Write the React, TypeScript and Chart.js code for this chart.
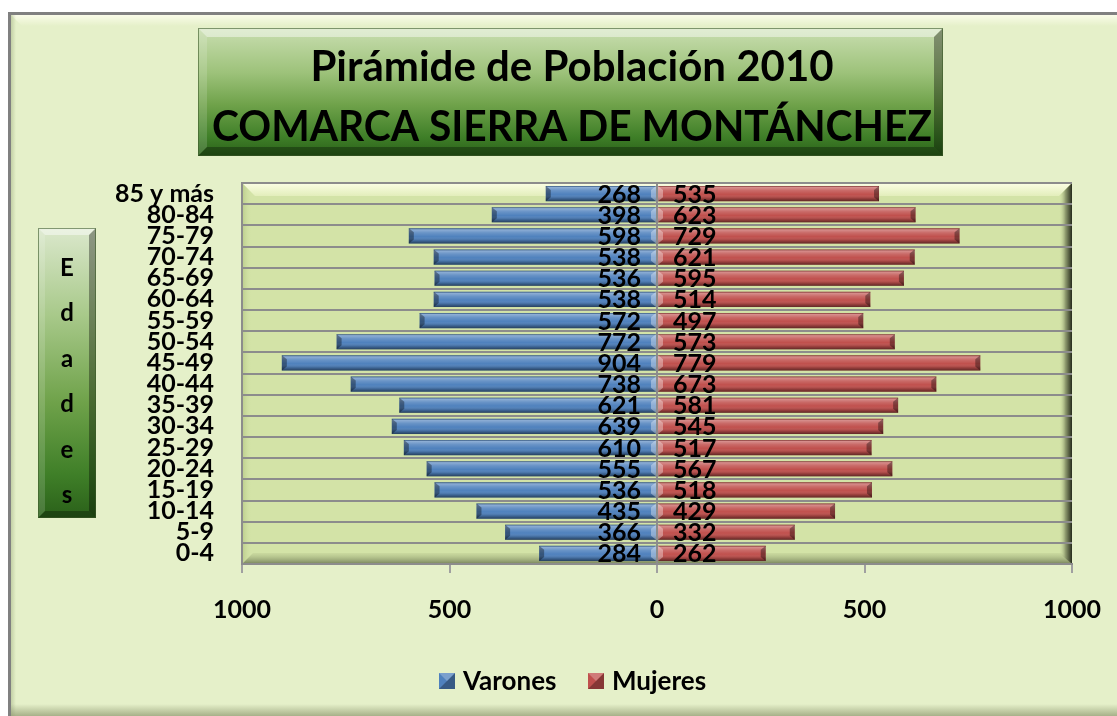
import React, { useEffect, useRef } from 'react';
import { Chart, registerables } from 'chart.js';

Chart.register(...registerables);

const CATEGORIES = ['0-4', '5-9', '10-14', '15-19', '20-24', '25-29', '30-34', '35-39', '40-44', '45-49', '50-54', '55-59', '60-64', '65-69', '70-74', '75-79', '80-84', '85 y más'];
const VARONES = [284, 366, 435, 536, 555, 610, 639, 621, 738, 904, 772, 572, 538, 536, 538, 598, 398, 268];
const MUJERES = [262, 332, 429, 518, 567, 517, 545, 581, 673, 779, 573, 497, 514, 595, 621, 729, 623, 535];
const X_TICKS = [-1000, -500, 0, 500, 1000];
const TITLE_LINES = ['Pirámide de Población 2010', 'COMARCA SIERRA DE MONTÁNCHEZ'];
const AXIS_TITLE = 'Edades';
const SERIES_NAMES = ['Varones', 'Mujeres'];
const SERIES_COLORS = ['#4f81bd', '#c0504d'];

const W = 1117;
const H = 716;
const FONT = 'Lato';

function bevelBox(ctx: CanvasRenderingContext2D, x: number, y: number, w: number, h: number, b: number, stops: [number, string][]) {
  const g = ctx.createLinearGradient(0, y, 0, y + h);
  stops.forEach(([o, c]) => g.addColorStop(o, c));
  ctx.fillStyle = g;
  ctx.fillRect(x, y, w, h);
  ctx.fillStyle = 'rgba(255,255,255,0.45)';
  ctx.beginPath();
  ctx.moveTo(x, y); ctx.lineTo(x + w, y); ctx.lineTo(x + w - b, y + b); ctx.lineTo(x + b, y + b); ctx.closePath(); ctx.fill();
  ctx.fillStyle = 'rgba(255,255,255,0.15)';
  ctx.beginPath();
  ctx.moveTo(x, y); ctx.lineTo(x + b, y + b); ctx.lineTo(x + b, y + h - b); ctx.lineTo(x, y + h); ctx.closePath(); ctx.fill();
  ctx.fillStyle = 'rgba(0,0,0,0.35)';
  ctx.beginPath();
  ctx.moveTo(x + w, y); ctx.lineTo(x + w, y + h); ctx.lineTo(x + w - b, y + h - b); ctx.lineTo(x + w - b, y + b); ctx.closePath(); ctx.fill();
  ctx.fillStyle = 'rgba(0,0,0,0.3)';
  ctx.beginPath();
  ctx.moveTo(x, y + h); ctx.lineTo(x + w, y + h); ctx.lineTo(x + w - b, y + h - b); ctx.lineTo(x + b, y + h - b); ctx.closePath(); ctx.fill();
  ctx.strokeStyle = 'rgba(60,90,40,0.6)';
  ctx.lineWidth = 1;
  ctx.strokeRect(x + 0.5, y + 0.5, w - 1, h - 1);
}

const decorPlugin = {
  id: 'decor',
  beforeDraw(chart: any) {
    const ctx: CanvasRenderingContext2D = chart.ctx;
    const ca = chart.chartArea;
    ctx.save();
    ctx.fillStyle = '#ffffff';
    ctx.fillRect(0, 0, W, H);
    ctx.fillStyle = '#e5f0c9';
    ctx.fillRect(8, 12, W, H);
    let g = ctx.createLinearGradient(0, 13, 0, 26);
    g.addColorStop(0, 'rgba(255,255,240,0.95)');
    g.addColorStop(1, 'rgba(255,255,240,0)');
    ctx.fillStyle = g;
    ctx.beginPath();
    ctx.moveTo(9, 13); ctx.lineTo(W, 13); ctx.lineTo(W, 26); ctx.lineTo(22, 26); ctx.closePath(); ctx.fill();
    g = ctx.createLinearGradient(9, 0, 16, 0);
    g.addColorStop(0, 'rgba(150,165,120,0.6)');
    g.addColorStop(1, 'rgba(150,165,120,0)');
    ctx.fillStyle = g;
    ctx.fillRect(9, 14, 8, H);
    g = ctx.createLinearGradient(0, 704, 0, H);
    g.addColorStop(0, 'rgba(140,150,110,0)');
    g.addColorStop(1, 'rgba(140,150,110,0.7)');
    ctx.fillStyle = g;
    ctx.fillRect(9, 704, W, 12);
    ctx.strokeStyle = '#808080';
    ctx.lineWidth = 3;
    ctx.beginPath();
    ctx.moveTo(9.5, H); ctx.lineTo(9.5, 13.5); ctx.lineTo(W, 13.5);
    ctx.stroke();

    // title box
    bevelBox(ctx, 198, 28, 745, 128, 9, [[0, '#c9deb0'], [0.35, '#9dc27a'], [0.6, '#6fa24a'], [0.85, '#3f7f28'], [1, '#2a6019']]);
    ctx.fillStyle = '#000';
    ctx.textAlign = 'center';
    ctx.textBaseline = 'alphabetic';
    ctx.font = `bold 42px ${FONT}`;
    ctx.fillText(TITLE_LINES[0], 572, 81, 547);
    ctx.fillText(TITLE_LINES[1], 572, 141, 720);

    // axis title box
    bevelBox(ctx, 38, 228, 58, 290, 7, [[0, '#dbe8cc'], [0.3, '#a8c98a'], [0.6, '#6fa24a'], [0.85, '#3f7f28'], [1, '#2a6019']]);
    ctx.fillStyle = '#000';
    ctx.textAlign = 'center';
    ctx.font = `bold 24px ${FONT}`;
    AXIS_TITLE.split('').forEach((ch, i) => {
      ctx.fillText(ch, 67, 276 + i * 45.4);
    });

    // plot area background with bevel
    const { left, top, right, bottom } = ca;
    ctx.fillStyle = '#d3e3a7';
    ctx.fillRect(left, top, right - left, bottom - top);
    g = ctx.createLinearGradient(0, top, 0, top + 13);
    g.addColorStop(0, '#fbfee4');
    g.addColorStop(1, '#e3eebb');
    ctx.fillStyle = g;
    ctx.beginPath();
    ctx.moveTo(left, top); ctx.lineTo(right, top); ctx.lineTo(right - 13, top + 13); ctx.lineTo(left + 13, top + 13); ctx.closePath(); ctx.fill();
    g = ctx.createLinearGradient(left, 0, left + 10, 0);
    g.addColorStop(0, '#b9cb8a');
    g.addColorStop(1, 'rgba(211,227,167,0)');
    ctx.fillStyle = g;
    ctx.beginPath();
    ctx.moveTo(left, top); ctx.lineTo(left + 10, top + 10); ctx.lineTo(left + 10, bottom - 10); ctx.lineTo(left, bottom); ctx.closePath(); ctx.fill();
    g = ctx.createLinearGradient(0, bottom - 11, 0, bottom);
    g.addColorStop(0, 'rgba(180,195,140,0.3)');
    g.addColorStop(1, '#76825a');
    ctx.fillStyle = g;
    ctx.beginPath();
    ctx.moveTo(left, bottom); ctx.lineTo(right, bottom); ctx.lineTo(right - 11, bottom - 11); ctx.lineTo(left + 11, bottom - 11); ctx.closePath(); ctx.fill();
    g = ctx.createLinearGradient(right - 13, 0, right, 0);
    g.addColorStop(0, 'rgba(211,227,167,0)');
    g.addColorStop(0.5, '#8e9a6e');
    g.addColorStop(1, '#262b1c');
    ctx.fillStyle = g;
    ctx.beginPath();
    ctx.moveTo(right, top); ctx.lineTo(right, bottom); ctx.lineTo(right - 13, bottom - 11); ctx.lineTo(right - 13, top + 13); ctx.closePath(); ctx.fill();

    // legend
    const lx = [439, 588];
    ctx.textAlign = 'left';
    ctx.font = `bold 26px ${FONT}`;
    SERIES_NAMES.forEach((name, i) => {
      const bx = lx[i];
      ctx.fillStyle = SERIES_COLORS[i];
      ctx.fillRect(bx, 673, 16, 16);
      ctx.fillStyle = 'rgba(0,0,0,0.3)';
      ctx.beginPath();
      ctx.moveTo(bx + 16, 673); ctx.lineTo(bx + 16, 689); ctx.lineTo(bx, 689); ctx.lineTo(bx + 8, 681); ctx.closePath(); ctx.fill();
      ctx.fillStyle = 'rgba(255,255,255,0.25)';
      ctx.beginPath();
      ctx.moveTo(bx, 673); ctx.lineTo(bx + 16, 673); ctx.lineTo(bx + 8, 681); ctx.closePath(); ctx.fill();
      ctx.fillStyle = '#000';
      ctx.fillText(name, bx + 24, 690);
    });
    ctx.restore();
  },
  afterDatasetsDraw(chart: any) {
    const ctx: CanvasRenderingContext2D = chart.ctx;
    ctx.save();
    chart.data.datasets.forEach((_ds: any, di: number) => {
      const meta = chart.getDatasetMeta(di);
      meta.data.forEach((bar: any) => {
        const { x, y, base, height } = bar.getProps(['x', 'y', 'base', 'height'], true);
        const l = Math.min(x, base);
        const r = Math.max(x, base);
        const t = y - height / 2;
        const b = y + height / 2;
        const g = ctx.createLinearGradient(0, t, 0, b);
        g.addColorStop(0, 'rgba(0,0,0,0.35)');
        g.addColorStop(0.1, 'rgba(255,255,255,0.35)');
        g.addColorStop(0.3, 'rgba(255,255,255,0.15)');
        g.addColorStop(0.55, 'rgba(255,255,255,0)');
        g.addColorStop(0.8, 'rgba(0,0,0,0.18)');
        g.addColorStop(1, 'rgba(0,0,0,0.5)');
        ctx.fillStyle = g;
        ctx.fillRect(l, t, r - l, b - t);
        const e = 5;
        ctx.fillStyle = 'rgba(0,0,0,0.35)';
        ctx.beginPath();
        if (di === 0) {
          ctx.moveTo(l, t); ctx.lineTo(l + e, t + 4); ctx.lineTo(l + e, b - 4); ctx.lineTo(l, b);
        } else {
          ctx.moveTo(r, t); ctx.lineTo(r - e, t + 4); ctx.lineTo(r - e, b - 4); ctx.lineTo(r, b);
        }
        ctx.closePath();
        ctx.fill();
        ctx.fillStyle = 'rgba(255,255,255,0.35)';
        ctx.beginPath();
        if (di === 0) {
          ctx.moveTo(r, t); ctx.lineTo(r - e, t + 4); ctx.lineTo(r - e, b - 4); ctx.lineTo(r, b);
        } else {
          ctx.moveTo(l, t); ctx.lineTo(l + e, t + 4); ctx.lineTo(l + e, b - 4); ctx.lineTo(l, b);
        }
        ctx.closePath();
        ctx.fill();
      });
    });
    const xs = chart.scales.x;
    const zero = xs.getPixelForValue(0);
    ctx.fillStyle = '#000';
    ctx.font = `bold 25px ${FONT}`;
    ctx.textBaseline = 'alphabetic';
    const m0 = chart.getDatasetMeta(0);
    const m1 = chart.getDatasetMeta(1);
    m0.data.forEach((bar: any, i: number) => {
      ctx.textAlign = 'right';
      ctx.fillText(String(VARONES[i]), zero - 16, bar.y + 9);
    });
    m1.data.forEach((bar: any, i: number) => {
      ctx.textAlign = 'left';
      ctx.fillText(String(MUJERES[i]), zero + 16, bar.y + 9);
    });
    ctx.restore();
  },
};

export default function App() {
  const ref = useRef<HTMLCanvasElement | null>(null);
  useEffect(() => {
    if (!ref.current) return;
    const chart = new Chart(ref.current, {
      type: 'bar',
      data: {
        labels: CATEGORIES,
        datasets: [
          { label: SERIES_NAMES[0], data: VARONES.map((v) => -v), backgroundColor: SERIES_COLORS[0], borderWidth: 0, barPercentage: 0.72, categoryPercentage: 1 },
          { label: SERIES_NAMES[1], data: MUJERES, backgroundColor: SERIES_COLORS[1], borderWidth: 0, barPercentage: 0.72, categoryPercentage: 1 },
        ],
      },
      options: {
        indexAxis: 'y',
        responsive: false,
        animation: false,
        layout: { padding: { top: 183, right: 45, left: 0, bottom: 0 } },
        plugins: { legend: { display: false }, title: { display: false }, tooltip: { enabled: false } },
        scales: {
          x: {
            stacked: true,
            min: -1000,
            max: 1000,
            afterBuildTicks: (s: any) => { s.ticks = X_TICKS.map((v) => ({ value: v })); },
            afterFit: (s: any) => { s.height = 152; s.paddingLeft = 0; s.paddingRight = 0; },
            ticks: {
              callback: (v: any) => String(Math.abs(Number(v))),
              font: { family: FONT, weight: 'bold', size: 25 },
              color: '#000',
              padding: 22,
              maxRotation: 0,
              autoSkip: false,
            },
            grid: {
              color: (c: any) => (c.tick && c.tick.value === 0 ? '#8c8c8c' : 'rgba(0,0,0,0)'),
              lineWidth: 2,
              tickColor: '#a0a0a0',
              tickLength: 9,
              tickWidth: 2,
            },
            border: { display: true, color: '#8c8c8c', width: 2 },
          },
          y: {
            stacked: true,
            reverse: true,
            afterFit: (s: any) => { s.width = 242; s.paddingTop = 0; s.paddingBottom = 0; },
            ticks: {
              font: { family: FONT, weight: 'bold', size: 25 },
              color: '#000',
              padding: 28,
              autoSkip: false,
            },
            grid: { color: '#8c8c8c', lineWidth: 2, drawTicks: false, offset: true },
            border: { display: true, color: '#8c8c8c', width: 2 },
          },
        },
      } as any,
      plugins: [decorPlugin],
    });
    return () => chart.destroy();
  }, []);
  return (
    <div style={{ position: 'absolute', left: 0, top: 0, width: W, height: H }}>
      <canvas ref={ref} width={W} height={H} style={{ display: 'block' }} />
    </div>
  );
}
